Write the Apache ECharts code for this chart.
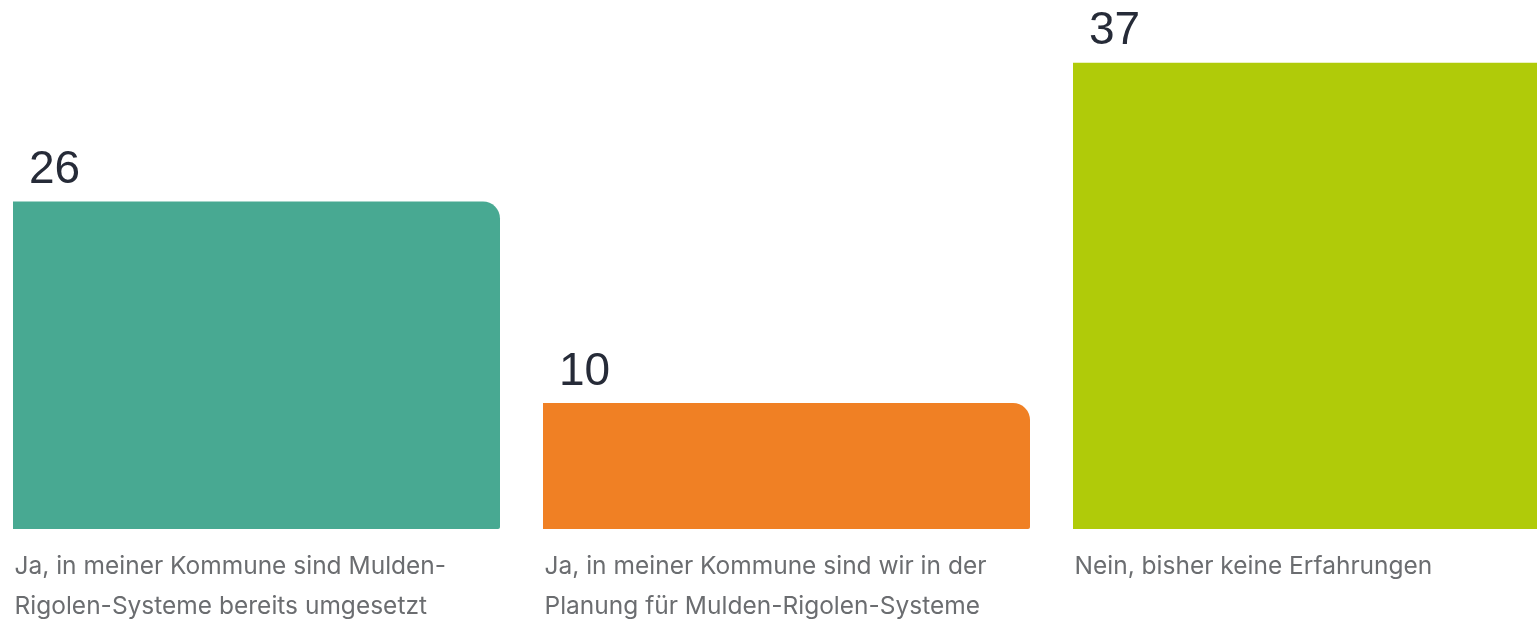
<!DOCTYPE html>
<html>
<head>
<meta charset="utf-8">
<style>
  html, body { margin: 0; padding: 0; background: #fff; }
  #chart { width: 1537px; height: 622px; }
</style>
<script src="https://cdn.jsdelivr.net/npm/echarts@6/dist/echarts.min.js"></script>
</head>
<body>
<div id="chart"></div>
<script>
const categories = [
  'Ja, in meiner Kommune sind Mulden-\nRigolen-Systeme bereits umgesetzt',
  'Ja, in meiner Kommune sind wir in der\nPlanung für Mulden-Rigolen-Systeme',
  'Nein, bisher keine Erfahrungen'
];
const values = [26, 10, 37];
const barColors = ['#48a992', '#f08024', '#b0cb09'];

const chart = echarts.init(document.getElementById('chart'), null, { renderer: 'canvas' });

chart.setOption({
  animation: false,
  backgroundColor: '#ffffff',
  grid: {
    left: -8.5,
    width: 1590,
    top: 25,
    bottom: 93,
    outerBoundsMode: 'none',
    containLabel: false
  },
  xAxis: {
    type: 'category',
    data: categories,
    axisLine: { show: false },
    axisTick: { show: false },
    splitLine: { show: false },
    axisLabel: {
      interval: 0,
      align: 'left',
      padding: [0, 0, 0, -242],
      margin: 18,
      color: '#6b6d70',
      fontFamily: 'Inter, "Noto Sans", sans-serif',
      fontSize: 24.5,
      lineHeight: 40
    }
  },
  yAxis: {
    type: 'value',
    min: 0,
    max: 40,
    show: false,
    splitLine: { show: false }
  },
  series: [{
    type: 'bar',
    barWidth: 487,
    data: values.map((v, i) => ({
      value: v,
      itemStyle: { color: barColors[i], borderRadius: [0, 17, 2, 0] }
    })),
    label: {
      show: true,
      position: [16, -8],
      verticalAlign: 'bottom',
      align: 'left',
      color: '#262b38',
      fontFamily: '"Liberation Sans", Arial, sans-serif',
      fontSize: 46
    }
  }]
});
</script>
</body>
</html>
